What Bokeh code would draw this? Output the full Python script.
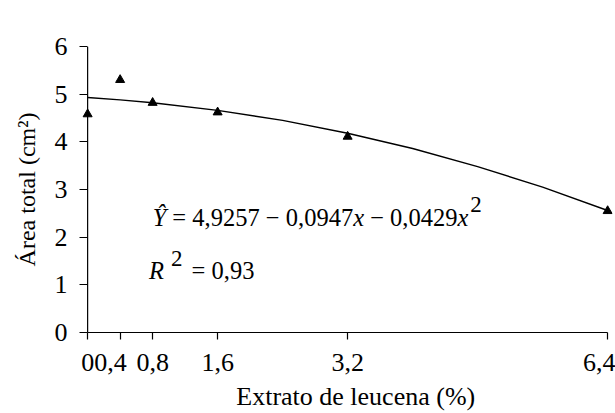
from bokeh.plotting import figure
from bokeh.models import Range1d, FixedTicker, Label, Span
from bokeh.embed import file_html
from bokeh.resources import INLINE

# ---- data ----
extract_pct = [0, 0.4, 0.8, 1.6, 3.2, 6.4]
area_total = [4.58, 5.30, 4.82, 4.62, 4.11, 2.55]

trend_x = [0, 0.4, 0.8, 1.6, 2.4, 3.2, 4.0, 4.8, 5.6, 6.4]
trend_y = [4.93, 4.88, 4.82, 4.66, 4.45, 4.18, 3.86, 3.48, 3.05, 2.56]

x_ticks = [0, 0.4, 0.8, 1.6, 3.2, 6.4]
x_tick_labels = ["0", "0,4\u00a0\u00a0\u00a0", "0,8", "1,6", "3,2", "6,4"]
y_ticks = [0, 1, 2, 3, 4, 5, 6]

FONT = "Liberation Serif"
NB = "\u00a0"

p = figure(width=615, height=413, x_range=Range1d(-0.1, 6.46), y_range=Range1d(0, 6),
           output_backend="svg", toolbar_location=None,
           min_border_left=79, min_border_right=3, min_border_top=46, min_border_bottom=81)
p.outline_line_color = None
p.xgrid.visible = False
p.ygrid.visible = False
p.background_fill_color = "white"
p.border_fill_color = "white"

p.xaxis.ticker = FixedTicker(ticks=x_ticks)
p.xaxis.major_label_overrides = {t: l for t, l in zip(x_ticks, x_tick_labels)}
p.xaxis.bounds = (0, 6.4)
p.yaxis.ticker = FixedTicker(ticks=y_ticks)

for ax in (p.xaxis, p.yaxis):
    ax.axis_line_color = "black"
    ax.axis_line_width = 1.2
    ax.major_tick_line_color = "black"
    ax.major_tick_line_width = 1.2
    ax.minor_tick_line_color = None
    ax.major_label_text_font = FONT
    ax.major_label_text_font_size = "26px"
    ax.major_label_text_color = "black"
    ax.axis_label_text_font = FONT
    ax.axis_label_text_font_style = "normal"
    ax.axis_label_text_color = "black"

p.xaxis.major_tick_in = 0
p.xaxis.major_tick_out = 7
p.xaxis.major_label_standoff = 8
p.xaxis.axis_label = NB * 3 + "Extrato de leucena (%)"
p.xaxis.axis_label_text_font_size = "26px"
p.xaxis.axis_label_standoff = 2

# y axis sits at the frame edge, ticks reach inward to x = 0 where the axis line is drawn
p.yaxis.axis_line_color = None
p.yaxis.major_tick_in = 8
p.yaxis.major_tick_out = 0
p.yaxis.major_label_standoff = 12
p.yaxis.axis_label = "Área total (cm²)"
p.yaxis.axis_label_text_font_size = "24px"
p.yaxis.axis_label_standoff = 12
p.add_layout(Span(location=0, dimension="height", line_color="black", line_width=1.2))

p.line(trend_x, trend_y, line_color="black", line_width=1.4)
p.scatter(extract_pct, area_total, marker="triangle", size=9,
          fill_color="black", line_color="black")

# ---- equation annotations built from pieces ----
EM = {"Ŷ": .556, "x": .444, "R": .611, " ": .25, NB: .25, "=": .564, "−": .564, ",": .25}


def width(s, size):
    return sum(EM.get(c, .5) for c in s) * size


def add_pieces(x0, y0, pieces):
    off = 0.0
    for text, style, size, rise, gap in pieces:
        off += gap
        p.add_layout(Label(x=x0, y=y0, x_offset=off, y_offset=rise, text=text,
                           text_font=FONT, text_font_size=f"{size}px",
                           text_font_style=style, text_color="black",
                           text_align="left", text_baseline="alphabetic"))
        off += width(text, size)


add_pieces(0.80, 2.42, [
    ("Ŷ", "italic", 24.5, 0, 0),
    (NB + "=" + NB + "4,9257" + NB + "−" + NB + "0,0947", "normal", 24.5, 0, 0),
    ("x", "italic", 24.5, 0, 0),
    (NB + "−" + NB + "0,0429", "normal", 24.5, 0, 0),
    ("x", "italic", 24.5, 0, 0),
    ("2", "normal", 23, 13, 2),
])

add_pieces(0.755, 1.31, [
    ("R", "italic", 24.5, 0, 0),
    ("2", "normal", 23, 12, 7),
    (NB + "=" + NB + "0,93", "normal", 24.5, 0, 3),
])

open("out.html", "w").write(file_html(p, INLINE))
